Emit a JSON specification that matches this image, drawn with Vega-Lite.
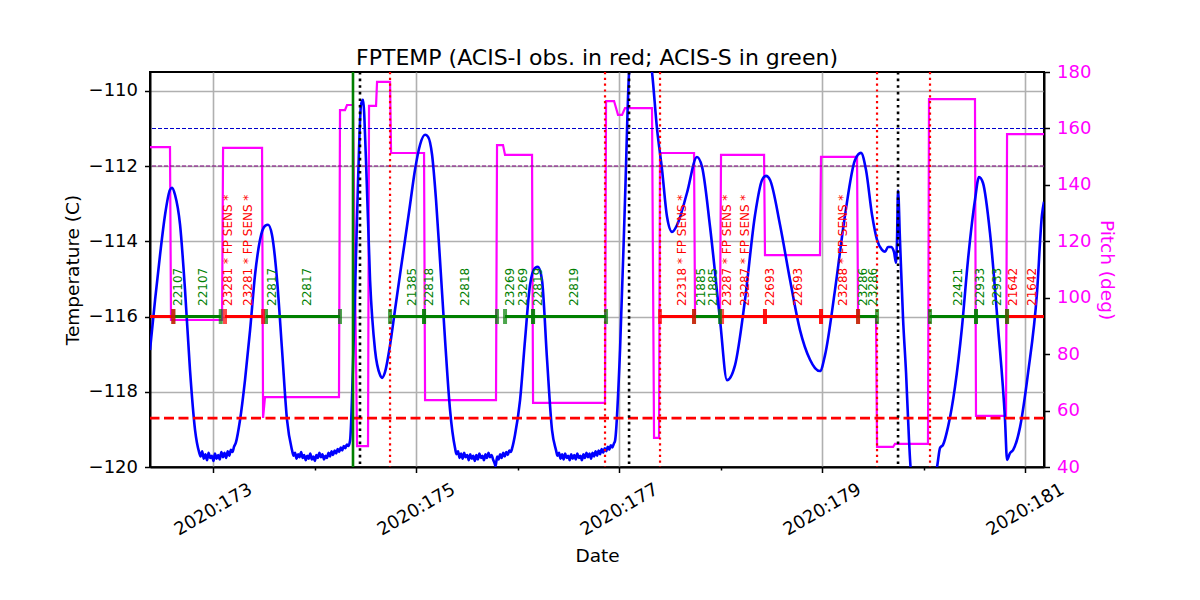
{
  "$schema": "https://vega.github.io/schema/vega-lite/v6.json",
  "width": 894,
  "height": 395,
  "autosize": {"type": "none"},
  "padding": {"left": 150, "top": 72, "right": 156, "bottom": 133},
  "background": "white",
  "title": {
    "text": "FPTEMP (ACIS-I obs. in red; ACIS-S in green)",
    "fontSize": 22,
    "fontWeight": "normal",
    "color": "black",
    "baseline": "alphabetic",
    "anchor": "middle",
    "frame": "group",
    "offset": 8,
    "dy": 32
  },
  "config": {
    "font": "DejaVu Sans",
    "view": {"stroke": "black", "strokeWidth": 2},
    "axis": {
      "labelFont": "DejaVu Sans",
      "labelFontSize": 18,
      "labelColor": "black",
      "titleFont": "DejaVu Sans",
      "titleFontSize": 18.5,
      "titleFontWeight": "normal",
      "titleColor": "black",
      "domainColor": "black",
      "domainWidth": 2,
      "tickColor": "black",
      "tickWidth": 1.5,
      "tickSize": 5.5,
      "labelPadding": 7,
      "gridColor": "#b0b0b0",
      "gridWidth": 1.6
    }
  },
  "datasets": {
    "temps": [
      {"day": 172.379, "temp": -116.89}, {"day": 172.429, "temp": -115.56}, {"day": 172.478, "temp": -114.36},
      {"day": 172.527, "temp": -113.30}, {"day": 172.576, "temp": -112.63}, {"day": 172.596, "temp": -112.58},
      {"day": 172.626, "temp": -112.77}, {"day": 172.675, "temp": -113.56}, {"day": 172.724, "temp": -115.29},
      {"day": 172.773, "temp": -117.42}, {"day": 172.823, "temp": -119.02}, {"day": 172.862, "temp": -119.60},
      {"day": 172.878, "temp": -119.72}, {"day": 172.893, "temp": -119.58}, {"day": 172.909, "temp": -119.78},
      {"day": 172.925, "temp": -119.66}, {"day": 172.941, "temp": -119.82}, {"day": 172.956, "temp": -119.62},
      {"day": 172.972, "temp": -119.76}, {"day": 172.988, "temp": -119.70}, {"day": 173.004, "temp": -119.84},
      {"day": 173.019, "temp": -119.64}, {"day": 173.035, "temp": -119.78}, {"day": 173.051, "temp": -119.68},
      {"day": 173.066, "temp": -119.80}, {"day": 173.082, "temp": -119.60}, {"day": 173.098, "temp": -119.74},
      {"day": 173.113, "temp": -119.62}, {"day": 173.129, "temp": -119.76}, {"day": 173.145, "temp": -119.58},
      {"day": 173.160, "temp": -119.70}, {"day": 173.176, "temp": -119.54}, {"day": 173.192, "temp": -119.60},
      {"day": 173.207, "temp": -119.46}, {"day": 173.225, "temp": -119.35},
      {"day": 173.266, "temp": -118.75}, {"day": 173.315, "temp": -117.69}, {"day": 173.365, "temp": -116.36},
      {"day": 173.414, "temp": -114.89}, {"day": 173.463, "temp": -113.96}, {"day": 173.512, "temp": -113.59},
      {"day": 173.542, "temp": -113.56}, {"day": 173.581, "temp": -113.83}, {"day": 173.631, "temp": -115.03},
      {"day": 173.680, "temp": -116.89}, {"day": 173.729, "temp": -118.75}, {"day": 173.778, "temp": -119.55},
      {"day": 173.793, "temp": -119.70}, {"day": 173.808, "temp": -119.62}, {"day": 173.823, "temp": -119.78},
      {"day": 173.838, "temp": -119.66}, {"day": 173.853, "temp": -119.74}, {"day": 173.868, "temp": -119.60},
      {"day": 173.883, "temp": -119.76}, {"day": 173.898, "temp": -119.68}, {"day": 173.913, "temp": -119.82},
      {"day": 173.928, "temp": -119.70}, {"day": 173.943, "temp": -119.78}, {"day": 173.958, "temp": -119.64},
      {"day": 173.973, "temp": -119.80}, {"day": 173.988, "temp": -119.72}, {"day": 174.003, "temp": -119.84},
      {"day": 174.018, "temp": -119.68}, {"day": 174.033, "temp": -119.76}, {"day": 174.048, "temp": -119.62},
      {"day": 174.063, "temp": -119.74}, {"day": 174.078, "temp": -119.66}, {"day": 174.093, "temp": -119.80},
      {"day": 174.108, "temp": -119.70}, {"day": 174.123, "temp": -119.76}, {"day": 174.138, "temp": -119.62},
      {"day": 174.153, "temp": -119.72}, {"day": 174.168, "temp": -119.58}, {"day": 174.183, "temp": -119.68},
      {"day": 174.198, "temp": -119.56}, {"day": 174.213, "temp": -119.64}, {"day": 174.228, "temp": -119.52},
      {"day": 174.243, "temp": -119.60}, {"day": 174.258, "temp": -119.48}, {"day": 174.273, "temp": -119.56},
      {"day": 174.288, "temp": -119.44}, {"day": 174.303, "temp": -119.50}, {"day": 174.318, "temp": -119.40},
      {"day": 174.333, "temp": -119.44}, {"day": 174.350, "temp": -119.30},
      {"day": 174.389, "temp": -116.36}, {"day": 174.429, "temp": -112.37}, {"day": 174.458, "temp": -110.37},
      {"day": 174.478, "temp": -110.24}, {"day": 174.507, "temp": -111.84}, {"day": 174.547, "temp": -115.03},
      {"day": 174.596, "temp": -116.89}, {"day": 174.645, "temp": -117.55}, {"day": 174.665, "temp": -117.63},
      {"day": 174.695, "temp": -117.47}, {"day": 174.744, "temp": -116.76}, {"day": 174.793, "temp": -115.82},
      {"day": 174.842, "temp": -114.89}, {"day": 174.892, "temp": -113.96}, {"day": 174.941, "temp": -113.03},
      {"day": 174.990, "temp": -112.10}, {"day": 175.039, "temp": -111.44}, {"day": 175.089, "temp": -111.17},
      {"day": 175.118, "temp": -111.22}, {"day": 175.158, "temp": -111.70}, {"day": 175.197, "temp": -112.90},
      {"day": 175.236, "temp": -114.49}, {"day": 175.286, "temp": -116.62}, {"day": 175.335, "temp": -118.48},
      {"day": 175.384, "temp": -119.49}, {"day": 175.399, "temp": -119.66}, {"day": 175.414, "temp": -119.58},
      {"day": 175.429, "temp": -119.76}, {"day": 175.444, "temp": -119.64}, {"day": 175.459, "temp": -119.78},
      {"day": 175.474, "temp": -119.62}, {"day": 175.489, "temp": -119.74}, {"day": 175.504, "temp": -119.68},
      {"day": 175.519, "temp": -119.82}, {"day": 175.534, "temp": -119.66}, {"day": 175.549, "temp": -119.78},
      {"day": 175.564, "temp": -119.70}, {"day": 175.579, "temp": -119.84}, {"day": 175.594, "temp": -119.68},
      {"day": 175.609, "temp": -119.80}, {"day": 175.624, "temp": -119.64}, {"day": 175.639, "temp": -119.76},
      {"day": 175.654, "temp": -119.70}, {"day": 175.669, "temp": -119.82}, {"day": 175.684, "temp": -119.66},
      {"day": 175.699, "temp": -119.76}, {"day": 175.714, "temp": -119.62}, {"day": 175.729, "temp": -119.74},
      {"day": 175.744, "temp": -119.68}, {"day": 175.759, "temp": -119.80}, {"day": 175.774, "temp": -119.90},
      {"day": 175.784, "temp": -119.98}, {"day": 175.799, "temp": -119.72}, {"day": 175.814, "temp": -119.80},
      {"day": 175.829, "temp": -119.66}, {"day": 175.844, "temp": -119.76}, {"day": 175.859, "temp": -119.62},
      {"day": 175.874, "temp": -119.72}, {"day": 175.889, "temp": -119.60}, {"day": 175.904, "temp": -119.68},
      {"day": 175.919, "temp": -119.56}, {"day": 175.934, "temp": -119.60}, {"day": 175.949, "temp": -119.48},
      {"day": 175.975, "temp": -119.15}, {"day": 176.025, "temp": -118.22}, {"day": 176.074, "temp": -116.62},
      {"day": 176.123, "temp": -115.16}, {"day": 176.172, "temp": -114.71}, {"day": 176.202, "temp": -114.68},
      {"day": 176.241, "temp": -115.03}, {"day": 176.291, "temp": -117.15}, {"day": 176.340, "temp": -119.02},
      {"day": 176.379, "temp": -119.55}, {"day": 176.394, "temp": -119.70}, {"day": 176.409, "temp": -119.62},
      {"day": 176.424, "temp": -119.78}, {"day": 176.439, "temp": -119.66}, {"day": 176.454, "temp": -119.80},
      {"day": 176.469, "temp": -119.64}, {"day": 176.484, "temp": -119.76}, {"day": 176.499, "temp": -119.70},
      {"day": 176.514, "temp": -119.82}, {"day": 176.529, "temp": -119.66}, {"day": 176.544, "temp": -119.78},
      {"day": 176.559, "temp": -119.68}, {"day": 176.574, "temp": -119.80}, {"day": 176.589, "temp": -119.64},
      {"day": 176.604, "temp": -119.76}, {"day": 176.619, "temp": -119.70}, {"day": 176.634, "temp": -119.82},
      {"day": 176.649, "temp": -119.66}, {"day": 176.664, "temp": -119.76}, {"day": 176.679, "temp": -119.62},
      {"day": 176.694, "temp": -119.74}, {"day": 176.709, "temp": -119.64}, {"day": 176.724, "temp": -119.78},
      {"day": 176.739, "temp": -119.62}, {"day": 176.754, "temp": -119.72}, {"day": 176.769, "temp": -119.58},
      {"day": 176.784, "temp": -119.70}, {"day": 176.799, "temp": -119.56}, {"day": 176.814, "temp": -119.66},
      {"day": 176.829, "temp": -119.52}, {"day": 176.844, "temp": -119.62}, {"day": 176.859, "temp": -119.50},
      {"day": 176.874, "temp": -119.58}, {"day": 176.889, "temp": -119.46}, {"day": 176.904, "temp": -119.54},
      {"day": 176.919, "temp": -119.42}, {"day": 176.934, "temp": -119.48}, {"day": 176.949, "temp": -119.38},
      {"day": 176.961, "temp": -119.30}, {"day": 177.010, "temp": -116.89}, {"day": 177.059, "temp": -112.90},
      {"day": 177.099, "temp": -109.50}, {"day": 177.138, "temp": -108.60}, {"day": 177.207, "temp": -107.90},
      {"day": 177.276, "temp": -108.60}, {"day": 177.325, "temp": -109.50}, {"day": 177.374, "temp": -111.00},
      {"day": 177.424, "temp": -112.10}, {"day": 177.473, "temp": -113.35}, {"day": 177.522, "temp": -113.75},
      {"day": 177.581, "temp": -113.51}, {"day": 177.670, "temp": -112.71}, {"day": 177.768, "temp": -111.76},
      {"day": 177.818, "temp": -112.02}, {"day": 177.897, "temp": -113.62}, {"day": 177.995, "temp": -116.09},
      {"day": 178.064, "temp": -117.69}, {"day": 178.143, "temp": -117.29}, {"day": 178.241, "temp": -115.56},
      {"day": 178.340, "temp": -113.30}, {"day": 178.409, "temp": -112.37}, {"day": 178.448, "temp": -112.26},
      {"day": 178.488, "temp": -112.37}, {"day": 178.586, "temp": -113.56}, {"day": 178.685, "temp": -115.03},
      {"day": 178.783, "temp": -116.36}, {"day": 178.882, "temp": -117.15}, {"day": 178.931, "temp": -117.37},
      {"day": 178.980, "temp": -117.45}, {"day": 179.030, "temp": -117.02}, {"day": 179.128, "temp": -115.29},
      {"day": 179.227, "temp": -113.30}, {"day": 179.325, "temp": -111.84}, {"day": 179.384, "temp": -111.65},
      {"day": 179.433, "temp": -112.10}, {"day": 179.493, "temp": -113.30}, {"day": 179.542, "temp": -113.96},
      {"day": 179.591, "temp": -114.23}, {"day": 179.621, "temp": -114.28}, {"day": 179.650, "temp": -114.15},
      {"day": 179.680, "temp": -114.15}, {"day": 179.709, "temp": -114.28}, {"day": 179.729, "temp": -114.57},
      {"day": 179.739, "temp": -113.96}, {"day": 179.749, "temp": -112.65}, {"day": 179.768, "temp": -113.96},
      {"day": 179.798, "temp": -116.04}, {"day": 179.828, "temp": -117.50}, {"day": 179.857, "temp": -119.28},
      {"day": 179.877, "temp": -120.10}, {"day": 179.950, "temp": -120.35}, {"day": 180.040, "temp": -120.40},
      {"day": 180.113, "temp": -120.20}, {"day": 180.133, "temp": -120.00}, {"day": 180.163, "temp": -119.49},
      {"day": 180.192, "temp": -119.41}, {"day": 180.241, "temp": -118.94}, {"day": 180.310, "temp": -117.87},
      {"day": 180.379, "temp": -116.28}, {"day": 180.438, "temp": -114.50}, {"day": 180.507, "temp": -112.90},
      {"day": 180.547, "temp": -112.29}, {"day": 180.586, "temp": -112.45}, {"day": 180.655, "temp": -113.78},
      {"day": 180.734, "temp": -116.28}, {"day": 180.803, "temp": -118.75}, {"day": 180.823, "temp": -119.81},
      {"day": 180.852, "temp": -119.63}, {"day": 180.882, "temp": -119.55}, {"day": 180.951, "temp": -118.94},
      {"day": 181.030, "temp": -117.50}, {"day": 181.118, "temp": -115.37}, {"day": 181.167, "temp": -113.30},
      {"day": 181.187, "temp": -112.95}
    ],
    "pitch": [
      {"day": 172.379, "pitch": 153.4}, {"day": 172.576, "pitch": 153.4}, {"day": 172.586, "pitch": 92.1},
      {"day": 173.089, "pitch": 92.1}, {"day": 173.099, "pitch": 153.1}, {"day": 173.483, "pitch": 153.1},
      {"day": 173.493, "pitch": 57.4}, {"day": 173.512, "pitch": 64.8}, {"day": 174.241, "pitch": 64.8},
      {"day": 174.251, "pitch": 166.5}, {"day": 174.300, "pitch": 166.5}, {"day": 174.320, "pitch": 168.3},
      {"day": 174.379, "pitch": 168.3}, {"day": 174.419, "pitch": 47.4}, {"day": 174.527, "pitch": 47.4},
      {"day": 174.537, "pitch": 168.0}, {"day": 174.606, "pitch": 168.0}, {"day": 174.616, "pitch": 176.5},
      {"day": 174.744, "pitch": 176.5}, {"day": 174.754, "pitch": 151.3}, {"day": 175.079, "pitch": 151.3},
      {"day": 175.089, "pitch": 63.7}, {"day": 175.788, "pitch": 63.7}, {"day": 175.798, "pitch": 154.1},
      {"day": 175.857, "pitch": 154.1}, {"day": 175.877, "pitch": 150.6}, {"day": 176.143, "pitch": 150.6},
      {"day": 176.153, "pitch": 62.7}, {"day": 176.862, "pitch": 62.7}, {"day": 176.872, "pitch": 169.7},
      {"day": 176.951, "pitch": 169.7}, {"day": 176.990, "pitch": 164.8}, {"day": 177.030, "pitch": 164.8},
      {"day": 177.059, "pitch": 167.2}, {"day": 177.325, "pitch": 167.2}, {"day": 177.345, "pitch": 50.3},
      {"day": 177.394, "pitch": 50.3}, {"day": 177.404, "pitch": 151.3}, {"day": 177.739, "pitch": 151.3},
      {"day": 177.749, "pitch": 93.2}, {"day": 177.995, "pitch": 93.2}, {"day": 178.005, "pitch": 150.6},
      {"day": 178.429, "pitch": 150.6}, {"day": 178.438, "pitch": 115.1}, {"day": 178.980, "pitch": 115.1},
      {"day": 178.990, "pitch": 149.9}, {"day": 179.345, "pitch": 149.9}, {"day": 179.355, "pitch": 93.2},
      {"day": 179.532, "pitch": 93.2}, {"day": 179.542, "pitch": 47.1}, {"day": 179.700, "pitch": 47.1},
      {"day": 179.719, "pitch": 48.2}, {"day": 180.044, "pitch": 48.2}, {"day": 180.054, "pitch": 170.4},
      {"day": 180.507, "pitch": 170.4}, {"day": 180.517, "pitch": 58.1}, {"day": 180.813, "pitch": 58.1},
      {"day": 180.823, "pitch": 158.0}, {"day": 181.187, "pitch": 158.0}
    ],
    "limits": [
      {"temp": -111.0, "limit": "planning_hi"},
      {"temp": -112.0, "limit": "planning_lo"},
      {"temp": -118.7, "limit": "acis_i"}
    ],
    "events": [
      {"day": 174.379, "kind": "now"},
      {"day": 174.448, "kind": "perigee"},
      {"day": 177.099, "kind": "perigee"},
      {"day": 179.749, "kind": "perigee"},
      {"day": 174.744, "kind": "radzone"},
      {"day": 176.862, "kind": "radzone"},
      {"day": 177.404, "kind": "radzone"},
      {"day": 179.542, "kind": "radzone"},
      {"day": 180.064, "kind": "radzone"}
    ],
    "obs": [
      {"obsid": "", "instr": "ACIS-I", "start": 172.30, "stop": 172.609},
      {"obsid": "22107", "instr": "ACIS-S", "start": 172.609, "stop": 173.076},
      {"obsid": "23281", "instr": "ACIS-I", "start": 173.118, "stop": 173.493},
      {"obsid": "22817", "instr": "ACIS-S", "start": 173.522, "stop": 174.251},
      {"obsid": "21385", "instr": "ACIS-S", "start": 174.744, "stop": 175.079},
      {"obsid": "22818", "instr": "ACIS-S", "start": 175.079, "stop": 175.798},
      {"obsid": "23269", "instr": "ACIS-S", "start": 175.877, "stop": 176.153},
      {"obsid": "22819", "instr": "ACIS-S", "start": 176.153, "stop": 176.872},
      {"obsid": "22318", "instr": "ACIS-I", "start": 177.404, "stop": 177.739},
      {"obsid": "21885", "instr": "ACIS-S", "start": 177.739, "stop": 177.995},
      {"obsid": "23287", "instr": "ACIS-I", "start": 178.015, "stop": 178.438},
      {"obsid": "22693", "instr": "ACIS-I", "start": 178.438, "stop": 178.990},
      {"obsid": "23288", "instr": "ACIS-I", "start": 178.990, "stop": 179.355},
      {"obsid": "23286", "instr": "ACIS-S", "start": 179.355, "stop": 179.542},
      {"obsid": "22421", "instr": "ACIS-S", "start": 180.064, "stop": 180.517},
      {"obsid": "22933", "instr": "ACIS-S", "start": 180.517, "stop": 180.823},
      {"obsid": "21642", "instr": "ACIS-I", "start": 180.823, "stop": 181.30}
    ],
    "labels": [
      {"day": 172.655, "label": "22107", "instr": "ACIS-S"},
      {"day": 172.901, "label": "22107", "instr": "ACIS-S"},
      {"day": 173.148, "label": "23281 * FP SENS *", "instr": "ACIS-I"},
      {"day": 173.345, "label": "23281 * FP SENS *", "instr": "ACIS-I"},
      {"day": 173.581, "label": "22817", "instr": "ACIS-S"},
      {"day": 173.926, "label": "22817", "instr": "ACIS-S"},
      {"day": 174.961, "label": "21385", "instr": "ACIS-S"},
      {"day": 175.128, "label": "22818", "instr": "ACIS-S"},
      {"day": 175.483, "label": "22818", "instr": "ACIS-S"},
      {"day": 175.926, "label": "23269", "instr": "ACIS-S"},
      {"day": 176.054, "label": "23269", "instr": "ACIS-S"},
      {"day": 176.202, "label": "22819", "instr": "ACIS-S"},
      {"day": 176.557, "label": "22819", "instr": "ACIS-S"},
      {"day": 177.621, "label": "22318 * FP SENS *", "instr": "ACIS-I"},
      {"day": 177.808, "label": "21885", "instr": "ACIS-S"},
      {"day": 177.926, "label": "21885", "instr": "ACIS-S"},
      {"day": 178.064, "label": "23287 * FP SENS *", "instr": "ACIS-I"},
      {"day": 178.241, "label": "23287 * FP SENS *", "instr": "ACIS-I"},
      {"day": 178.488, "label": "22693", "instr": "ACIS-I"},
      {"day": 178.764, "label": "22693", "instr": "ACIS-I"},
      {"day": 179.207, "label": "23288 * FP SENS *", "instr": "ACIS-I"},
      {"day": 179.404, "label": "23286", "instr": "ACIS-S"},
      {"day": 179.502, "label": "23286", "instr": "ACIS-S"},
      {"day": 180.340, "label": "22421", "instr": "ACIS-S"},
      {"day": 180.557, "label": "22933", "instr": "ACIS-S"},
      {"day": 180.724, "label": "22933", "instr": "ACIS-S"},
      {"day": 180.882, "label": "21642", "instr": "ACIS-I"},
      {"day": 181.069, "label": "21642", "instr": "ACIS-I"}
    ]
  },
  "layer": [
    {
      "data": {"name": "pitch"},
      "mark": {"type": "line", "color": "#ff00ff", "strokeWidth": 2.2, "clip": true},
      "encoding": {
        "x": {
          "field": "day",
          "type": "quantitative",
          "scale": {"domain": [172.379, 181.187], "nice": false, "zero": false},
          "axis": {
            "title": "Date",
            "values": [173, 174, 175, 176, 177, 178, 179, 180, 181],
            "labelExpr": "datum.value % 2 == 1 ? '2020:' + datum.value : ''",
            "labelAngle": -30,
            "labelAlign": "center",
            "labelBaseline": "middle",
            "labelPadding": 37,
            "labelOverlap": false,
            "labelFlush": false,
            "labelBound": false,
            "grid": true,
            "gridOpacity": {"condition": {"test": "datum.value % 2 == 1", "value": 1}, "value": 0},
            "tickSize": {"condition": {"test": "datum.value % 2 == 1", "value": 5.5}, "value": 3},
            "titlePadding": 8
          }
        },
        "y": {
          "field": "pitch",
          "type": "quantitative",
          "scale": {"domain": [40, 180], "nice": false, "zero": false},
          "axis": {
            "orient": "right",
            "title": "Pitch (deg)",
            "values": [40, 60, 80, 100, 120, 140, 160, 180],
            "grid": false,
            "labelColor": "#ff00ff",
            "titleColor": "#ff00ff",
            "titlePadding": 6
          }
        }
      }
    },
    {
      "resolve": {"scale": {"color": "independent"}},
      "layer": [
        {
          "data": {"name": "temps"},
          "mark": {"type": "line", "color": "#0000ff", "strokeWidth": 2.6, "interpolate": "monotone", "clip": true},
          "encoding": {
            "x": {"field": "day", "type": "quantitative", "title": "Date", "scale": {"domain": [172.379, 181.187], "nice": false, "zero": false}},
            "y": {
              "field": "temp",
              "type": "quantitative",
              "scale": {"domain": [-120, -109.5], "nice": false, "zero": false},
              "axis": {
                "orient": "left",
                "title": "Temperature (C)",
                "values": [-120, -118, -116, -114, -112, -110],
                "format": "d",
                "grid": true,
                "titlePadding": 6
              }
            }
          }
        },
        {
          "data": {"name": "limits"},
          "transform": [{"filter": "datum.limit == 'planning_hi'"}],
          "mark": {"type": "rule", "color": "#0000cc", "strokeWidth": 1.1, "strokeDash": [4, 2]},
          "encoding": {
            "y": {"field": "temp", "type": "quantitative", "title": "Temperature (C)", "scale": {"domain": [-120, -109.5], "nice": false, "zero": false}}
          }
        },
        {
          "data": {"name": "limits"},
          "transform": [{"filter": "datum.limit == 'planning_lo'"}],
          "mark": {"type": "rule", "color": "#800080", "strokeWidth": 1.1, "strokeDash": [4, 2]},
          "encoding": {
            "y": {"field": "temp", "type": "quantitative", "title": "Temperature (C)", "scale": {"domain": [-120, -109.5], "nice": false, "zero": false}}
          }
        },
        {
          "data": {"name": "limits"},
          "transform": [{"filter": "datum.limit == 'acis_i'"}],
          "mark": {"type": "rule", "color": "#ff0000", "strokeWidth": 2.6, "strokeDash": [10, 4.5]},
          "encoding": {
            "y": {"field": "temp", "type": "quantitative", "title": "Temperature (C)", "scale": {"domain": [-120, -109.5], "nice": false, "zero": false}}
          }
        },
        {
          "data": {"name": "events"},
          "transform": [{"filter": "datum.kind == 'now'"}],
          "mark": {"type": "rule", "color": "#008000", "strokeWidth": 2.6},
          "encoding": {
            "x": {"field": "day", "type": "quantitative", "title": "Date", "scale": {"domain": [172.379, 181.187], "nice": false, "zero": false}}
          }
        },
        {
          "data": {"name": "events"},
          "transform": [{"filter": "datum.kind == 'perigee'"}],
          "mark": {"type": "rule", "color": "#000000", "strokeWidth": 2.6, "strokeDash": [2.6, 4]},
          "encoding": {
            "x": {"field": "day", "type": "quantitative", "title": "Date", "scale": {"domain": [172.379, 181.187], "nice": false, "zero": false}}
          }
        },
        {
          "data": {"name": "events"},
          "transform": [{"filter": "datum.kind == 'radzone'"}],
          "mark": {"type": "rule", "color": "#ff0000", "strokeWidth": 2.2, "strokeDash": [2.2, 3.6]},
          "encoding": {
            "x": {"field": "day", "type": "quantitative", "title": "Date", "scale": {"domain": [172.379, 181.187], "nice": false, "zero": false}}
          }
        },
        {
          "data": {"name": "obs"},
          "mark": {"type": "rule", "strokeWidth": 3, "clip": true},
          "encoding": {
            "x": {"field": "start", "type": "quantitative", "title": "Date", "scale": {"domain": [172.379, 181.187], "nice": false, "zero": false}},
            "x2": {"field": "stop"},
            "y": {"datum": -116},
            "color": {"field": "instr", "type": "nominal", "legend": null,
              "scale": {"domain": ["ACIS-I", "ACIS-S"], "range": ["#ff0000", "#008000"]}}
          }
        },
        {
          "data": {"name": "obs"},
          "mark": {"type": "tick", "orient": "vertical", "thickness": 4, "size": 15, "clip": true},
          "encoding": {
            "x": {"field": "start", "type": "quantitative", "title": "Date", "scale": {"domain": [172.379, 181.187], "nice": false, "zero": false}},
            "y": {"datum": -116},
            "color": {"field": "instr", "type": "nominal", "legend": null,
              "scale": {"domain": ["ACIS-I", "ACIS-S"], "range": ["#ff0000", "#008000"]}}
          }
        },
        {
          "data": {"name": "obs"},
          "mark": {"type": "tick", "orient": "vertical", "thickness": 4, "size": 15, "clip": true},
          "encoding": {
            "x": {"field": "stop", "type": "quantitative", "title": "Date", "scale": {"domain": [172.379, 181.187], "nice": false, "zero": false}},
            "y": {"datum": -116},
            "color": {"field": "instr", "type": "nominal", "legend": null,
              "scale": {"domain": ["ACIS-I", "ACIS-S"], "range": ["#ff0000", "#008000"]}}
          }
        },
        {
          "data": {"name": "labels"},
          "mark": {"type": "text", "angle": 270, "align": "left", "baseline": "middle", "fontSize": 12, "font": "DejaVu Sans"},
          "encoding": {
            "x": {"field": "day", "type": "quantitative", "title": "Date", "scale": {"domain": [172.379, 181.187], "nice": false, "zero": false}},
            "y": {"datum": -115.72},
            "text": {"field": "label"},
            "color": {"field": "instr", "type": "nominal", "legend": null,
              "scale": {"domain": ["ACIS-I", "ACIS-S"], "range": ["#ff0000", "#008000"]}}
          }
        }
      ]
    }
  ],
  "resolve": {"scale": {"y": "independent"}}
}
